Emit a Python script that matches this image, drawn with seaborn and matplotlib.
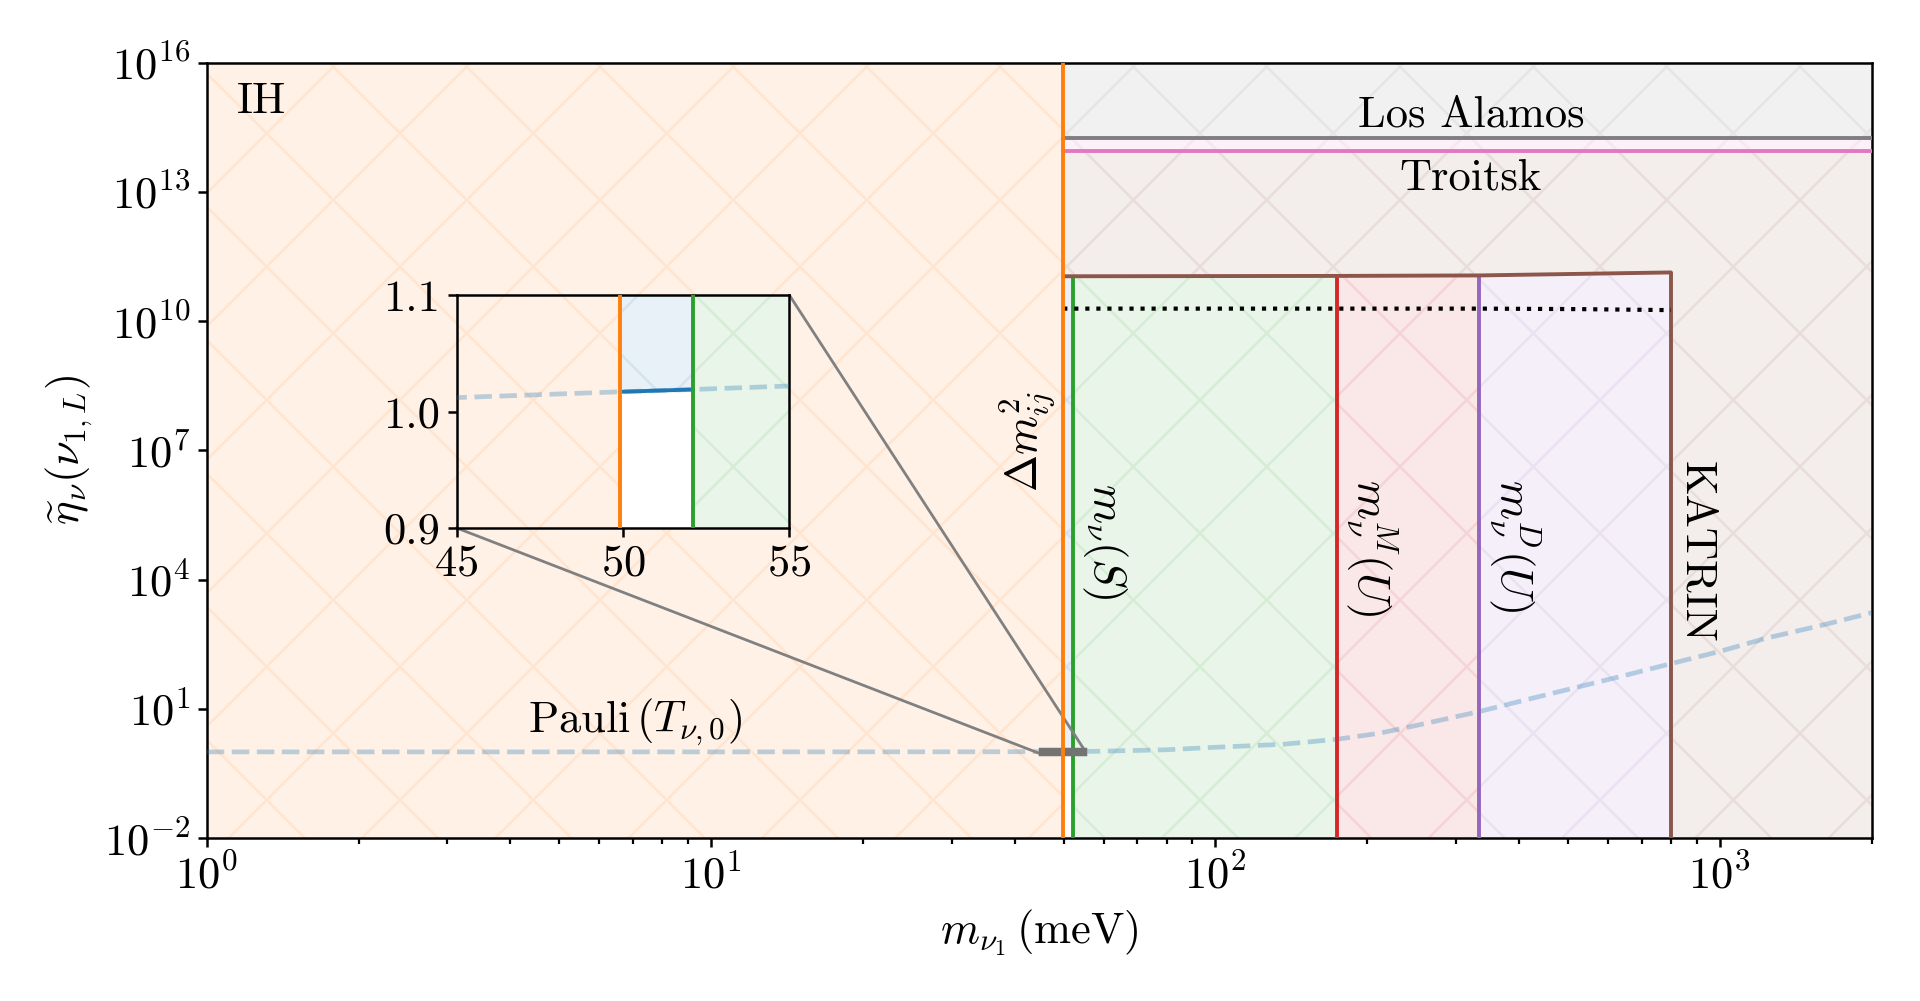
import numpy as np
import matplotlib
matplotlib.use("Agg")
import matplotlib.pyplot as plt
import seaborn as sns
from matplotlib.ticker import NullLocator, FormatStrFormatter

# ---- data (m in meV) ----
m_pauli = [1, 10, 30, 45, 49.9, 52.1, 55, 60, 80, 100, 136, 174, 211, 250,
           333, 420, 526, 650, 796, 1000, 1233, 1600, 2000]
eta_pauli = [1.0, 1.0, 1.004, 1.012, 1.017, 1.019, 1.022, 1.04, 1.12, 1.28,
             1.5, 1.96, 2.7, 4.1, 8.6, 17, 32.6, 60, 110, 215, 433, 880, 1700]

# boundaries: Delta m^2_ij, m_nu(S), m_nu^M(U), m_nu^D(U), KATRIN
m_bound = [49.9, 52.1, 174, 333, 800]
eta_katrin = [1.1e11, 1.1e11, 1.12e11, 1.15e11, 1.35e11]

m_dotted = [49.9, 333, 526, 800]
eta_dotted = [1.95e10, 1.95e10, 1.9e10, 1.8e10]

eta_los_alamos = 1.76e14
eta_troitsk = 8.8e13

x_lim = (1, 2000)
y_lim = (1e-2, 1e16)
y_ticks = [1e-2, 1e1, 1e4, 1e7, 1e10, 1e13, 1e16]

sns.set_theme(style="ticks")
plt.rcParams.update({
    "font.family": ["cmr10", "DejaVu Sans"],
    "mathtext.fontset": "cm",
    "axes.formatter.use_mathtext": True,
    "font.size": 8, "axes.labelsize": 8,
    "xtick.labelsize": 8, "ytick.labelsize": 8,
    "text.color": "black", "axes.labelcolor": "black",
    "xtick.color": "black", "ytick.color": "black",
    "axes.edgecolor": "black", "axes.linewidth": 0.45,
    "xtick.major.size": 1.6, "ytick.major.size": 1.6,
    "xtick.minor.size": 1.0, "ytick.minor.size": 1.0,
    "xtick.major.width": 0.45, "ytick.major.width": 0.45,
    "xtick.minor.width": 0.4, "ytick.minor.width": 0.4,
    "xtick.major.pad": 1.4, "ytick.major.pad": 1.4,
    "axes.labelpad": 1.6,
    "hatch.linewidth": 0.45,
    "lines.linewidth": 0.7,
})

C = {"dm": "tab:orange", "S": "tab:green", "MU": "tab:red", "DU": "tab:purple",
     "K": "tab:brown", "LA": "tab:gray", "T": "tab:pink", "P": "tab:blue"}
LW = 0.7

fig, ax = plt.subplots(figsize=(4.8, 2.5025), dpi=400)
fig.subplots_adjust(left=0.1077, right=0.9748, bottom=0.1628, top=0.9374)
axins = ax.inset_axes([0.15, 0.4, 0.2, 0.3])

mb = np.array(m_bound)
ek = np.array(eta_katrin)
i50 = m_pauli.index(m_bound[0])
i52 = m_pauli.index(m_bound[1])


def shade(a, x, y1, y2, c):
    a.fill_between(x, y1, y2, facecolor=c, edgecolor=c, alpha=0.1,
                   hatch="x", linewidth=0, zorder=1)


def draw(a):
    # excluded regions
    shade(a, [x_lim[0], mb[0]], y_lim[0], y_lim[1], C["dm"])
    shade(a, [mb[0], x_lim[1]], eta_los_alamos, y_lim[1], C["LA"])
    shade(a, [mb[0], x_lim[1]], eta_troitsk, eta_los_alamos, C["T"])
    shade(a, mb, ek, eta_troitsk, C["K"])
    shade(a, [mb[4], x_lim[1]], y_lim[0], eta_troitsk, C["K"])
    shade(a, mb[1:3], y_lim[0], ek[1:3], C["S"])
    shade(a, mb[2:4], y_lim[0], ek[2:4], C["MU"])
    shade(a, mb[3:5], y_lim[0], ek[3:5], C["DU"])
    shade(a, m_pauli[i50:i52 + 1], eta_pauli[i50:i52 + 1], ek[0:2], C["P"])

    # Pauli bound
    sns.lineplot(x=m_pauli, y=eta_pauli, ax=a, color=C["P"], alpha=0.3,
                 linestyle="--", linewidth=0.85, sort=False, zorder=3)
    sns.lineplot(x=m_pauli[i50:i52 + 1], y=eta_pauli[i50:i52 + 1], ax=a,
                 color=C["P"], linewidth=LW, sort=False, zorder=4)

    # bounds
    a.axvline(mb[0], color=C["dm"], linewidth=LW, zorder=5)
    a.vlines(mb[1:], y_lim[0], ek[1:],
             colors=[C["S"], C["MU"], C["DU"], C["K"]], linewidth=LW, zorder=4)


draw(ax)
sns.lineplot(x=m_bound, y=eta_katrin, ax=ax, color=C["K"], linewidth=LW,
             sort=False, zorder=4)
sns.lineplot(x=m_dotted, y=eta_dotted, ax=ax, color="black", linestyle=":",
             linewidth=0.75, sort=False, zorder=4)
sns.lineplot(x=[mb[0], x_lim[1]], y=[eta_los_alamos] * 2, ax=ax,
             color=C["LA"], linewidth=LW, zorder=4)
sns.lineplot(x=[mb[0], x_lim[1]], y=[eta_troitsk] * 2, ax=ax,
             color=C["T"], linewidth=LW, zorder=4)

ax.set_xscale("log")
ax.set_yscale("log")
ax.set_xlim(*x_lim)
ax.set_ylim(*y_lim)
ax.set_yticks(y_ticks)
ax.yaxis.set_minor_locator(NullLocator())
ax.set_xlabel(r"$m_{\nu_1}\,(\mathrm{meV})$")
ax.set_ylabel(r"$\widetilde{\eta}_\nu(\nu_{1,L})$")

# labels
ax.text(0.018, 0.975, "IH", transform=ax.transAxes, ha="left", va="top")
ax.text(321, 6e14, "Los Alamos", ha="center", va="center")
ax.text(321, 2.1e13, "Troitsk", ha="center", va="center")
ax.text(48.5, 1.6e7, r"$\Delta m^2_{ij}$", rotation=90, ha="right", va="center")
ax.text(54, 7.7e4, r"$m_\nu(S)$", rotation=-90, ha="left", va="center")
ax.text(180, 5.6e4, r"$m_\nu^M(U)$", rotation=-90, ha="left", va="center")
ax.text(345, 6.3e4, r"$m_\nu^D(U)$", rotation=-90, ha="left", va="center")
ax.text(820, 4.3e4, "KATRIN", rotation=-90, ha="left", va="center")
ax.text(7.07, 4.9, r"Pauli$\,(T_{\nu,0})$", ha="center", va="center")

# inset
draw(axins)
axins.set_xlim(45, 55)
axins.set_ylim(0.9, 1.1)
axins.set_xticks([45, 50, 55])
axins.set_yticks([0.9, 1.0, 1.1])
axins.yaxis.set_major_formatter(FormatStrFormatter("%.1f"))
axins.set_xlabel("")
axins.set_ylabel("")
ind = ax.indicate_inset_zoom(axins, edgecolor="0.45", alpha=1, linewidth=0.8)
conns = ind.connectors if hasattr(ind, "connectors") else ind[1]
for c in conns:
    c.set_linewidth(0.5)
    c.set_edgecolor("0.5")

fig.savefig("out.png", dpi=400)
